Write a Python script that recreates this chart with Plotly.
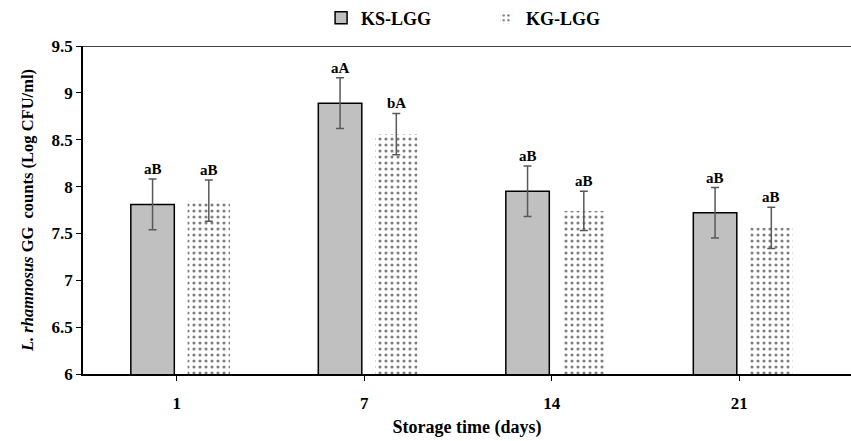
import plotly.graph_objects as go

days = ["1", "7", "14", "21"]
ks_values = [7.81, 8.89, 7.95, 7.72]
ks_errors = [0.27, 0.27, 0.27, 0.27]
kg_values = [7.85, 8.56, 7.74, 7.56]
kg_errors = [0.22, 0.22, 0.21, 0.22]
ks_labels = ["aB", "aA", "aB", "aB"]
kg_labels = ["aB", "bA", "aB", "aB"]

FONT = "Liberation Serif"
x_idx = list(range(len(days)))

fig = go.Figure()
fig.add_trace(go.Bar(
    name="KS-LGG", x=x_idx, y=ks_values, width=0.232, offset=-0.245,
    marker=dict(color="#c0c0c0", line=dict(color="black", width=1.5)),
    error_y=dict(type="data", array=ks_errors, color="#595959", thickness=1.5, width=4),
))
fig.add_trace(go.Bar(
    name="KG-LGG", x=x_idx, y=kg_values, width=0.226, offset=0.058,
    marker=dict(color="white", line=dict(width=0),
                pattern=dict(shape=".", fgcolor="black", bgcolor="white", size=6, solidity=0.22)),
    error_y=dict(type="data", array=kg_errors, color="#595959", thickness=1.5, width=4),
))

annotations = []
for i in x_idx:
    annotations.append(dict(x=i, y=ks_values[i] + ks_errors[i], xref="x", yref="y",
                            text=ks_labels[i], showarrow=False, xshift=-24, yanchor="bottom", yshift=0,
                            font=dict(family=FONT, size=15, color="black", weight="bold")))
    annotations.append(dict(x=i, y=kg_values[i] + kg_errors[i], xref="x", yref="y",
                            text=kg_labels[i], showarrow=False, xshift=32, yanchor="bottom", yshift=0,
                            font=dict(family=FONT, size=15, color="black", weight="bold")))

fig.update_layout(
    width=851, height=441,
    margin=dict(l=83, r=0, t=46, b=67, autoexpand=False),
    paper_bgcolor="white", plot_bgcolor="white",
    barmode="overlay",
    font=dict(family=FONT, size=17, color="black", weight="bold"),
    legend=dict(orientation="h", x=0.31, xanchor="left", y=1.085, yanchor="middle",
                font=dict(family=FONT, size=18, color="black", weight="bold"),
                itemwidth=30, entrywidthmode="pixels", entrywidth=120),
    annotations=annotations,
    shapes=[dict(type="line", xref="paper", yref="y", x0=0, x1=1, y0=9.5, y1=9.5,
                 line=dict(color="black", width=1.5))],
)
fig.update_xaxes(
    tickvals=x_idx, ticktext=days, range=[-0.5, 3.596],
    showline=True, linecolor="black", linewidth=1.5,
    ticks="outside", tickson="boundaries", ticklen=5, tickcolor="black",
    showgrid=False, zeroline=False, ticklabelstandoff=8, automargin=False,
    title=dict(text="Storage time (days)", standoff=8,
               font=dict(family=FONT, size=18, color="black", weight="bold")),
)
fig.update_yaxes(
    range=[6, 9.5], dtick=0.5, tick0=6,
    showline=True, linecolor="black", linewidth=1.5,
    ticks="outside", ticklen=5, tickcolor="black",
    showgrid=False, zeroline=False, automargin=False,
    title=dict(text="<i>L. rhamnosus</i> GG  counts (Log CFU/ml)", standoff=14,
               font=dict(family=FONT, size=16.5, color="black", weight="bold")),
)

fig.write_html("out.html", config={"displayModeBar": False},
               post_script="document.body.style.margin='0';")
